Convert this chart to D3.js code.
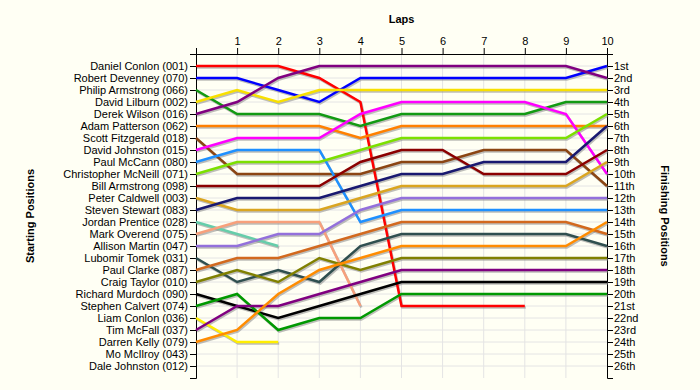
<!DOCTYPE html>
<html>
<head>
<meta charset="utf-8">
<script src="https://cdn.jsdelivr.net/npm/d3@7"></script>
<style>
  body { margin: 0; background: #fffff4; }
  text { font-family: Arial, "Liberation Sans", sans-serif; }
</style>
</head>
<body>
<script>
// starting grid, top to bottom
var drivers = ["Daniel Conlon (001)", "Robert Devenney (070)", "Philip Armstrong (066)", "David Lilburn (002)",
  "Derek Wilson (016)", "Adam Patterson (062)", "Scott Fitzgerald (018)", "David Johnston (015)",
  "Paul McCann (080)", "Christopher McNeill (071)", "Bill Armstrong (098)", "Peter Caldwell (003)",
  "Steven Stewart (083)", "Jordan Prentice (028)", "Mark Overend (075)", "Allison Martin (047)",
  "Lubomir Tomek (031)", "Paul Clarke (087)", "Craig Taylor (010)", "Richard Murdoch (090)",
  "Stephen Calvert (074)", "Liam Conlon (036)", "Tim McFall (037)", "Darren Kelly (079)",
  "Mo McIlroy (043)", "Dale Johnston (012)"];

var finishLabels = ["1st","2nd","3rd","4th","5th","6th","7th","8th","9th","10th","11th","12th","13th",
  "14th","15th","16th","17th","18th","19th","20th","21st","22nd","23rd","24th","25th","26th"];

var laps = [0,1,2,3,4,5,6,7,8,9,10];

// position at each lap (lap 0 = grid), shorter arrays = retired
var positions = [
  [1,1,1,2,4,21,21,21,21],
  [2,2,3,4,2,2,2,2,2,2,1],
  [3,5,5,5,6,5,5,5,5,4,4],
  [4,3,4,3,3,3,3,3,3,3,3],
  [5,4,2,1,1,1,1,1,1,1,2],
  [6,6,6,6,7,6,6,6,6,6,6],
  [7,10,10,10,10,9,9,8,8,8,11],
  [8,7,7,7,5,4,4,4,4,5,10],
  [9,8,8,8,14,13,13,13,13,13,13],
  [10,9,9,9,8,7,7,7,7,7,5],
  [11,11,11,11,9,8,8,10,10,10,8],
  [12,13,13,13,12,11,11,11,11,11,9],
  [13,12,12,12,11,10,10,9,9,9,6],
  [14,15,16],
  [15,14,14,14,21],
  [16,16,15,15,13,12,12,12,12,12,12],
  [17,19,18,19,16,15,15,15,15,15,16],
  [18,17,17,16,15,14,14,14,14,14,15],
  [19,18,19,17,18,17,17,17,17,17,17],
  [20,21,22,21,20,19,19,19,19,19,19],
  [21,20,23,22,22,20,20,20,20,20,20],
  [22,24,24],
  [23,21,21,20,19,18,18,18,18,18,18],
  [24,23,20,18,17,16,16,16,16,16,14],
  [],
  []
];

var colors = ["#ff0000","#0000ff","#129a12","#f8e000","#800080","#ff8000","#8b4513","#ff00ff",
  "#1e90ff","#7ce000","#8b0000","#daa520","#191970","#66cdaa","#f7a07c","#9370db",
  "#2f4f4f","#d2691e","#808000","#000000","#009900","#ffee00","#800080","#ff8c00","#999","#999"];

function bumpChart(){

	var width = 700;
	var height = 390;
	var svg = d3.select("body")
				.append("svg")
				.attr("width", width)
				.attr("height", height);

	var x = d3.scaleLinear().domain([0, 10]).range([196, 607]);
	var y = d3.scaleLinear().domain([0, 27]).range([54, 378]);
	var rows = d3.range(1, 27);

	// grid
	svg.append("g").selectAll("line.h")
		.data(rows)
		.enter().append("line")
		.attr("x1", x(0)).attr("x2", x(10))
		.attr("y1", function(d){ return y(d); })
		.attr("y2", function(d){ return y(d); })
		.attr("stroke", "#e4e4e4");

	svg.append("g").selectAll("line.v")
		.data(laps.slice(1, 10))
		.enter().append("line")
		.attr("x1", function(d){ return x(d); })
		.attr("x2", function(d){ return x(d); })
		.attr("y1", y(0)).attr("y2", y(27))
		.attr("stroke", "#e4e4e4");

	// axes
	var axisStyle = function(g){
		g.select(".domain").attr("stroke", "#000");
		g.selectAll(".tick line").attr("stroke", "#000");
		g.selectAll("text").attr("fill", "#000").attr("font-size", "11px")
			.attr("font-family", "Arial, 'Liberation Sans', sans-serif");
	};

	svg.append("g")
		.attr("transform", "translate(" + x(0) + ",0)")
		.call(d3.axisLeft(y).tickValues(rows).tickSize(6).tickPadding(2)
			.tickFormat(function(d){ return drivers[d - 1]; }))
		.call(axisStyle);

	svg.append("g")
		.attr("transform", "translate(" + x(10) + ",0)")
		.call(d3.axisRight(y).tickValues(rows).tickSize(6).tickPadding(1)
			.tickFormat(function(d){ return finishLabels[d - 1]; }))
		.call(axisStyle);

	svg.append("g")
		.attr("transform", "translate(0," + y(0) + ")")
		.call(d3.axisTop(x).tickValues(laps).tickSize(6).tickPadding(3)
			.tickFormat(function(d){ return d === 0 ? "" : d; }))
		.call(axisStyle);

	// lines
	var line = d3.line()
		.x(function(d, i){ return x(laps[i]); })
		.y(function(d){ return y(d); });

	var series = positions.map(function(p, i){ return {pos: p, color: colors[i]}; })
		.filter(function(s){ return s.pos.length > 1; });

	svg.append("g")
		.attr("transform", "translate(1,1.5)")
		.selectAll("path")
		.data(series)
		.enter().append("path")
		.attr("d", function(d){ return line(d.pos); })
		.attr("fill", "none")
		.attr("stroke", "#888")
		.attr("stroke-opacity", 0.55)
		.attr("stroke-width", 2.5);

	svg.append("g")
		.selectAll("path")
		.data(series)
		.enter().append("path")
		.attr("d", function(d){ return line(d.pos); })
		.attr("fill", "none")
		.attr("stroke", function(d){ return d.color; })
		.attr("stroke-width", 2.5);

	// titles
	svg.append("text")
		.attr("x", x(5)).attr("y", 23)
		.attr("text-anchor", "middle")
		.attr("font-size", "11px").attr("font-weight", "bold")
		.text("Laps");

	svg.append("text")
		.attr("transform", "translate(34," + y(13.5) + ") rotate(-90)")
		.attr("text-anchor", "middle")
		.attr("font-size", "11px").attr("font-weight", "bold")
		.text("Starting Positions");

	svg.append("text")
		.attr("transform", "translate(661," + y(13.5) + ") rotate(90)")
		.attr("text-anchor", "middle")
		.attr("font-size", "11px").attr("font-weight", "bold")
		.text("Finishing Positions");
}

bumpChart();
</script>
</body>
</html>
